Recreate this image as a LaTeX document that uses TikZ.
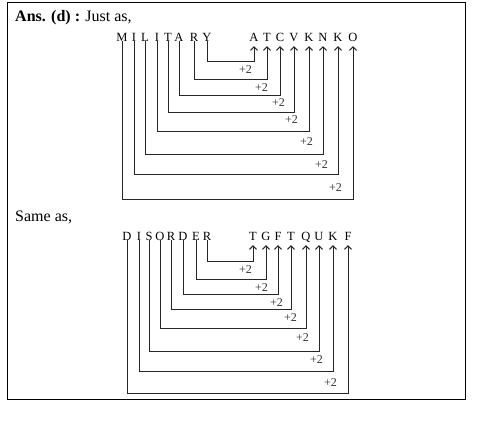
\documentclass[tikz,border=0pt]{standalone}
\usepackage{fontspec}
\setmainfont{Liberation Serif}
\usetikzlibrary{arrows.meta}
\tikzset{
  frame/.style={line width=0.9pt},
  head/.style={font=\fontsize{16}{18}\selectfont,anchor=base west,inner sep=0pt},
  let/.style={font=\fontsize{12.5}{14}\selectfont,anchor=base,inner sep=0pt,
    text height=8pt,text depth=0pt},
  link/.style={-{Straight Barb[length=3.5pt,width=7pt,line width=1pt]},line width=1pt,black!85,
    shorten >=5pt},
  plus/.style={font=\fontsize{12}{14}\selectfont,black!80,anchor=east,inner sep=0pt},
}

\begin{document}
\begin{tikzpicture}[x=1pt,y=-1pt]
  \useasboundingbox (0,0) rectangle (490,421);
  \draw[frame] (7,2) rectangle (465,399);
  \node[head] (ans) at (15,21) {\textbf{Ans. (d) :} Just as,};
  \node[head] (same) at (15,221) {Same as,};
  % first word and its coded form
  \foreach \x/\c [count=\i] in {122/M,134/I,145/L,157/I,168/T,179/A,194/R,207/Y}
    \node[let] (a\i) at (\x,41) {\c};
  \foreach \x/\c [count=\i] in {254/A,267/T,280/C,294/V,309/K,323/N,338/K,353/O}
    \node[let] (b\i) at (\x,41) {\c};
  \foreach \i/\j/\d in {8/1/20,7/2/38,6/3/54,5/4/71,4/5/90,3/6/113,2/7/133,1/8/158}
    \draw[link] (a\i.south) -- ++(0,\d) -| (b\j.south);
  \foreach \x/\y [count=\i] in {252/70,268/88,285/103,298/120,313/142,328/165,342/188}
    \node[plus] (p\i) at (\x,\y) {+2};
  % second word
  \foreach \x/\c [count=\i] in {127/D,139/I,149/S,160/O,171/R,183/D,196/E,207/R}
    \node[let] (c\i) at (\x,240) {\c};
  \foreach \x/\c [count=\i] in {253/T,266/G,278/F,291/T,306/Q,319/U,333/K,348/F}
    \node[let] (d\i) at (\x,240) {\c};
  \foreach \i/\j/\d in {8/1/21,7/2/39,6/3/54,5/4/69,4/5/88,3/6/111,2/7/131,1/8/153}
    \draw[link] (c\i.south) -- ++(0,\d) -| (d\j.south);
  \foreach \x/\y [count=\i] in {252/270,268/288,283/303,297/318,309/338,323/360,337/383}
    \node[plus] (q\i) at (\x,\y) {+2};
\end{tikzpicture}
\end{document}
